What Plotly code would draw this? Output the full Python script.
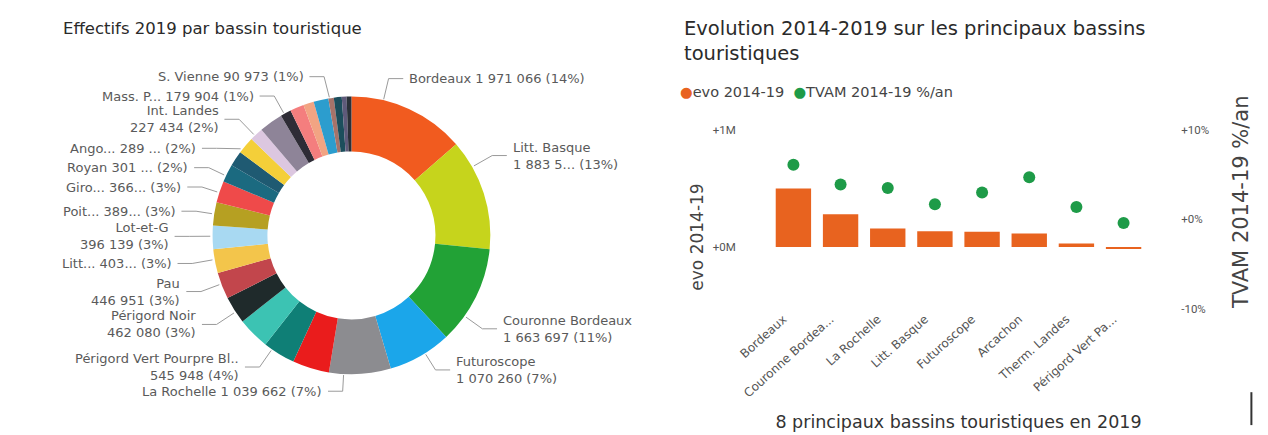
import math
import plotly.graph_objects as go

W, H = 1268, 435
FONT = "'DejaVu Sans', Verdana, sans-serif"
TICK_FONT = "Roboto, 'DejaVu Sans', sans-serif"

# ---------------- Effectifs 2019 par bassin touristique ----------------
basins = [
    "Bordeaux", "Litt. Basque", "Couronne Bordeaux", "Futuroscope", "La Rochelle",
    "Arcachon", "Périgord Vert Pourpre Blanc", "Therm. Landes", "Périgord Noir", "Pau",
    "Litt. Landais", "Lot-et-Garonne", "Poitiers", "Gironde", "Royan",
    "Bassin 16", "Angoulême", "Int. Landes", "Bassin 19", "Mass. Pyrénées",
    "Bassin 21", "Bassin 22", "Bassin 23", "S. Vienne", "Bassin 25",
    "Bassin 26", "Bassin 27",
]
effectifs = [
    1971066, 1883500, 1663697, 1070260, 1039662,
    620000, 545948, 540000, 462080, 446951,
    403000, 396139, 389000, 366000, 301000,
    260000, 289000, 227434, 400000, 179904,
    234000, 178000, 250000, 90973, 133000,
    81000, 81000,
]
# name shown next to the slice ("" = no label) and how many characters
# of the formatted number are kept before the ellipsis (None = full)
label_short = [
    "Bordeaux", "Litt. Basque", "Couronne Bordeaux", "Futuroscope", "La Rochelle",
    "", "Périgord Vert Pourpre Bl..", "", "Périgord Noir", "Pau",
    "Litt...", "Lot-et-G", "Poit...", "Giro...", "Royan",
    "", "Ango...", "Int. Landes", "", "Mass. P...",
    "", "", "", "S. Vienne", "",
    "", "",
]
value_keep = [
    None, 7, None, None, None,
    None, None, None, None, None,
    3, None, 3, 3, 4,
    None, 4, None, None, None,
    None, None, None, None, None,
    None, None,
]

slice_colors = [
    "#F15B1F", "#C6D41C", "#22A236", "#1BA6EA", "#8C8C90",
    "#EA1C1C", "#0F7F76", "#3CC3B3", "#1F2A2B", "#C2464C",
    "#F3C54B", "#A8D9F2", "#B6A022", "#EF4A4A", "#1B6A80",
    "#1F5A72", "#F4CF39", "#DCC7E0", "#8E8498", "#2E2C36",
    "#F47E7E", "#F2A483", "#2C9DCE", "#A6736A", "#1C4E5C",
    "#5E5A7A", "#2A3038",
]

# ---------------- Evolution 2014-2019 ----------------
top_basins = ["Bordeaux", "Couronne Bordea...", "La Rochelle", "Litt. Basque",
              "Futuroscope", "Arcachon", "Therm. Landes", "Périgord Vert Pa..."]
evo_2014_19 = [500000, 280000, 158000, 135000, 130000, 115000, 30000, -12000]
tvam_2014_19 = [6.1, 3.9, 3.5, 1.7, 3.0, 4.7, 1.4, -0.4]

evo_ticks = [0, 1000000]
evo_ticktext = ["+0M", "+1M"]
tvam_ticks = [-10, 0, 10]
tvam_ticktext = ["-10%", "+0%", "+10%"]


def px(x):
    return x / W


def py(y):
    return 1 - y / H


def fmt_int(v):
    return f"{v:,}".replace(",", " ")


# donut geometry (pixels)
CX, CY, R = 330, 236, 143.5

# label placement: side, text anchor x (end for left, start for right), y, lines
label_pos = {
    0: ("R", 387, 74, 1),
    1: ("R", 493, 153.5, 2),
    2: ("R", 483, 332.5, 2),
    3: ("R", 435, 375, 2),
    4: ("L", 302, 397, 1),
    6: ("L", 217, 372, 2),
    8: ("L", 173, 328, 2),
    9: ("L", 157, 294, 2),
    10: ("L", 148, 265, 1),
    11: ("L", 145, 237, 2),
    12: ("L", 152, 211, 1),
    13: ("L", 158, 186, 1),
    14: ("L", 165, 166, 1),
    16: ("L", 173, 146, 1),
    17: ("L", 196, 116, 2),
    19: ("L", 232, 92, 1),
    23: ("L", 283, 72, 1),
}

fig = go.Figure()

fig.add_trace(go.Pie(
    values=effectifs,
    labels=basins,
    sort=False,
    direction="clockwise",
    rotation=0,
    hole=0.605,
    textinfo="none",
    marker=dict(colors=slice_colors, line=dict(width=0)),
    domain=dict(x=[px(CX - R), px(CX + R)], y=[py(CY + R), py(CY - R)]),
    showlegend=False,
    hovertemplate="%{label}<br>%{value}<extra></extra>",
))

total = sum(effectifs)
annotations = []
shapes = []
label_font = dict(family=FONT, size=13, color="#5A5A5A")
cum = 0.0
for i, v in enumerate(effectifs):
    a0 = cum / total * 360
    cum += v
    a1 = cum / total * 360
    if i not in label_pos:
        continue
    side, lx, ly, lines = label_pos[i]
    pct = round(v / total * 100)
    keep = value_keep[i]
    vtxt = fmt_int(v) if keep is None else fmt_int(v)[:keep] + "..."
    sep = "<br>" if lines == 2 else " "
    text = f"{label_short[i]}{sep}{vtxt} ({pct}%)"
    if side == "L":
        hx0 = lx + 4
        ex = hx0 + 15
        anchor, align = "right", "right"
    else:
        hx0 = lx - 4
        ex = hx0 - 15
        anchor, align = "left", "left"
    annotations.append(dict(x=px(lx), y=py(ly), xref="paper", yref="paper",
                            text=text, showarrow=False, xanchor=anchor,
                            yanchor="middle", align=align, font=label_font))
    # leader line: from the slice rim towards the label, then horizontal
    ang = math.degrees(math.atan2(ex - CX, -(ly - CY))) % 360
    margin = min(1.5, (a1 - a0) / 4)
    ang = min(max(ang, a0 + margin), a1 - margin)
    t = math.radians(ang)
    sx = CX + (R + 1) * math.sin(t)
    sy = CY - (R + 1) * math.cos(t)
    shapes.append(dict(
        type="path", xref="paper", yref="paper",
        path=f"M {px(sx)},{py(sy)} L {px(ex)},{py(ly)} L {px(hx0)},{py(ly)}",
        line=dict(color="#9A9A9A", width=1),
    ))

fig.add_trace(go.Bar(
    x=top_basins, y=evo_2014_19,
    marker=dict(color="#E8631F", line=dict(width=0)),
    xaxis="x", yaxis="y", showlegend=False, name="evo 2014-19",
))
fig.add_trace(go.Scatter(
    x=top_basins, y=tvam_2014_19, mode="markers",
    marker=dict(color="#1E9B48", size=12),
    xaxis="x", yaxis="y2", showlegend=False, name="TVAM 2014-19 %/an",
))

# titles
title_color = "#2A2A2A"
annotations.append(dict(x=px(33), y=py(22), xref="paper", yref="paper",
                        text="Effectifs 2019 par bassin touristique", showarrow=False,
                        xanchor="left", yanchor="middle",
                        font=dict(family=FONT, size=16.5, color=title_color)))
annotations.append(dict(x=px(668), y=py(22), xref="paper", yref="paper",
                        text="Evolution 2014-2019 sur les principaux bassins",
                        showarrow=False, xanchor="left", yanchor="middle",
                        font=dict(family=FONT, size=19.5, color=title_color)))
annotations.append(dict(x=px(668), y=py(48), xref="paper", yref="paper",
                        text="touristiques",
                        showarrow=False, xanchor="left", yanchor="middle",
                        font=dict(family=FONT, size=19.5, color=title_color)))
# legend
annotations.append(dict(x=px(664), y=py(88), xref="paper", yref="paper",
                        text="<span style='color:#E8631F'>●</span>evo 2014-19  "
                             "<span style='color:#1E9B48'>●</span>TVAM 2014-19 %/an",
                        showarrow=False, xanchor="left", yanchor="middle",
                        font=dict(family=FONT, size=14.5, color="#444444")))
# axis titles of the evolution chart
annotations.append(dict(x=px(684), y=py(238), xref="paper", yref="paper",
                        text="evo 2014-19", textangle=-90, showarrow=False,
                        xanchor="center", yanchor="middle",
                        font=dict(family=FONT, size=17, color="#444444")))
annotations.append(dict(x=px(1241), y=py(202), xref="paper", yref="paper",
                        text="TVAM 2014-19 %/an", textangle=-90, showarrow=False,
                        xanchor="center", yanchor="middle",
                        font=dict(family=FONT, size=21, color="#444444")))

shapes.append(dict(type="line", xref="paper", yref="paper",
                   x0=px(1251), x1=px(1251), y0=py(398), y1=py(432),
                   line=dict(color="#333333", width=2)))

fig.update_layout(
    width=W, height=H,
    margin=dict(l=0, r=0, t=0, b=0),
    paper_bgcolor="white", plot_bgcolor="white",
    font=dict(family=FONT, color="#555555"),
    bargap=0.25,
    annotations=annotations,
    shapes=shapes,
    xaxis=dict(domain=[px(755), px(1147.5)], tickangle=-42, showgrid=False,
               showline=False, zeroline=False, ticks="", ticklabelshift=-10,
               tickfont=dict(family=FONT, size=12, color="#555555"),
               title=dict(text="8 principaux bassins touristiques en 2019",
                          font=dict(family=FONT, size=17.5, color="#333333"),
                          standoff=16)),
    yaxis=dict(domain=[py(312), py(127)], range=[-529000, 1000000],
               tickvals=evo_ticks, ticktext=evo_ticktext, showgrid=False,
               zeroline=False, showline=False, ticks="", ticklabelstandoff=30,
               tickfont=dict(family=TICK_FONT, size=11.5, color="#555555")),
    yaxis2=dict(overlaying="y", side="right", range=[-10, 10],
                tickvals=tvam_ticks, ticktext=tvam_ticktext, showgrid=False,
                zeroline=False, showline=False, ticks="", ticklabelstandoff=30,
                tickfont=dict(family=TICK_FONT, size=11.5, color="#555555")),
)

fig.write_html("out.html")
